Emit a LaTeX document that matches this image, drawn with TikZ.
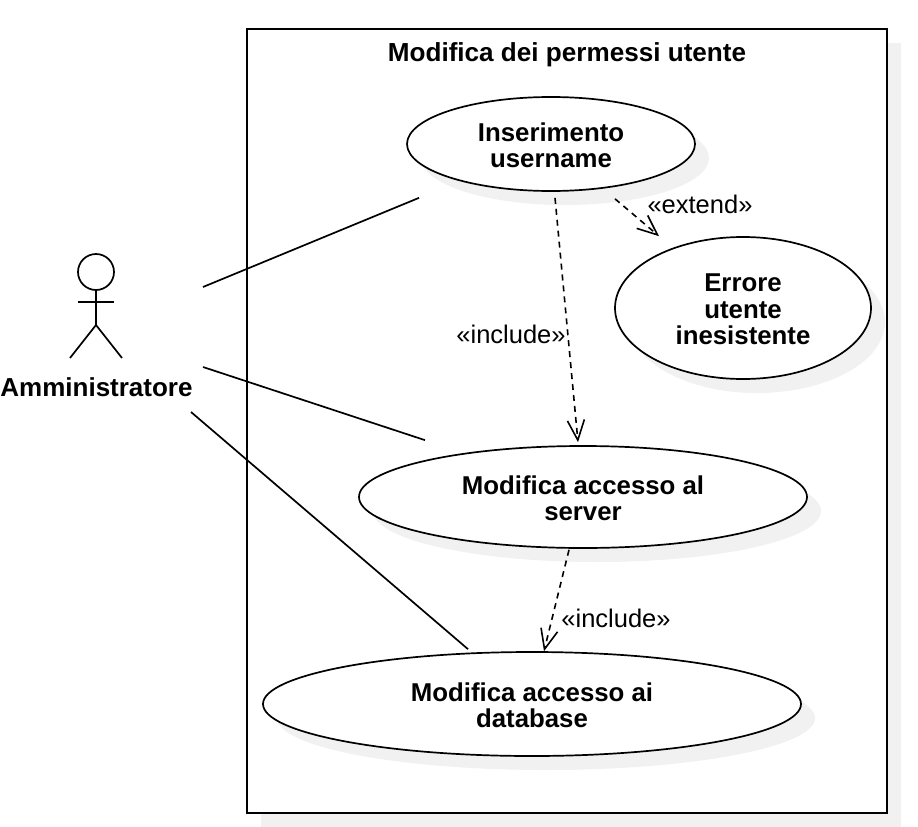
\documentclass[tikz,border=0pt]{standalone}
\usepackage{fontspec}
\setmainfont{Liberation Sans}
\usepackage{xcolor}
\usetikzlibrary{shapes,arrows.meta,positioning,shadows,calc}

\definecolor{shadowgray}{gray}{0.945}
\newcommand{\ucstrut}{\rule{0pt}{21pt}}
\tikzset{
  umlshadow/.style={drop shadow={shadow xshift=14pt, shadow yshift=-14pt, fill=shadowgray, opacity=1}},
  usecase/.style={draw, ellipse, fill=white, line width=1.7pt, inner sep=0pt, align=center, umlshadow,
    font=\fontsize{25.8}{26.5}\selectfont\bfseries},
  assoc/.style={line width=1.7pt},
  dep/.style={line width=1.6pt, dash pattern=on 6pt off 5pt, -{Straight Barb[length=20pt, width=17pt, line width=1.6pt]}},
  lbl/.style={font=\fontsize{25.5}{27}\selectfont, inner sep=0pt},
  limb/.style={line width=1.7pt},
}

\begin{document}
\begin{tikzpicture}[x=1pt, y=-1pt]
  \useasboundingbox (0,0) rectangle (918,827);

  % System boundary
  \node[draw, fill=white, line width=1.9pt, inner sep=0pt, minimum width=640pt, minimum height=784pt, umlshadow]
    (system) at (567,421) {};
  \node[font=\fontsize{26.1}{27}\selectfont\bfseries, inner sep=0pt] (title) at (567,55) {Modifica dei permessi utente};

  % Use cases
  \node[usecase, minimum width=288pt, minimum height=94pt] (inserimento) at (551,144) {\ucstrut Inserimento\\username};
  \node[usecase, minimum width=256pt, minimum height=142pt] (errore) at (743,308) {\ucstrut Errore\\utente\\inesistente};
  \node[usecase, minimum width=448pt, minimum height=102pt] (server) at (583,497) {\ucstrut Modifica accesso al\\server};
  \node[usecase, minimum width=538pt, minimum height=104pt] (database) at (532,704) {\ucstrut Modifica accesso ai\\database};

  % Actor
  \node[draw, circle, limb, inner sep=0pt, minimum size=36pt] (head) at (96,272) {};
  \coordinate (hip) at (96,325);
  \coordinate (armL) at (78,302);
  \coordinate (armR) at (114,302);
  \coordinate (footL) at (70,358);
  \coordinate (footR) at (122,358);
  \draw[limb] (head.south) -- (hip);
  \draw[limb] (armL) -- (armR);
  \draw[limb] (footL) -- (hip) -- (footR);
  \node[font=\fontsize{26}{27}\selectfont\bfseries, inner sep=0pt] (actor) at (96.5,387) {Amministratore};

  % Associations
  \coordinate (a1) at (203,287);
  \coordinate (a2) at (203,367);
  \coordinate (a3) at (191,412);
  \draw[assoc] (a1) -- ([shift={(-132,6)}]inserimento.south);
  \draw[assoc] (a2) -- ([shift={(-158,-5)}]server.north);
  \draw[assoc] (a3) -- ([shift={(-64,-2)}]database.north);

  % Dependencies
  \draw[dep] ([shift={(4,6)}]inserimento.south) -- ([shift={(-5,-3)}]server.north);
  \draw[dep] ([shift={(64,7)}]inserimento.south) -- ([shift={(-84,0)}]errore.north);
  \draw[dep] ([shift={(-14,1)}]server.south) -- ([shift={(12,0)}]database.north);

  % Stereotypes
  \node[lbl] (inc1) at (511,334.5) {«include»};
  \node[lbl] (ext) at (700,204) {«extend»};
  \node[lbl] (inc2) at (616,618) {«include»};
\end{tikzpicture}
\end{document}
